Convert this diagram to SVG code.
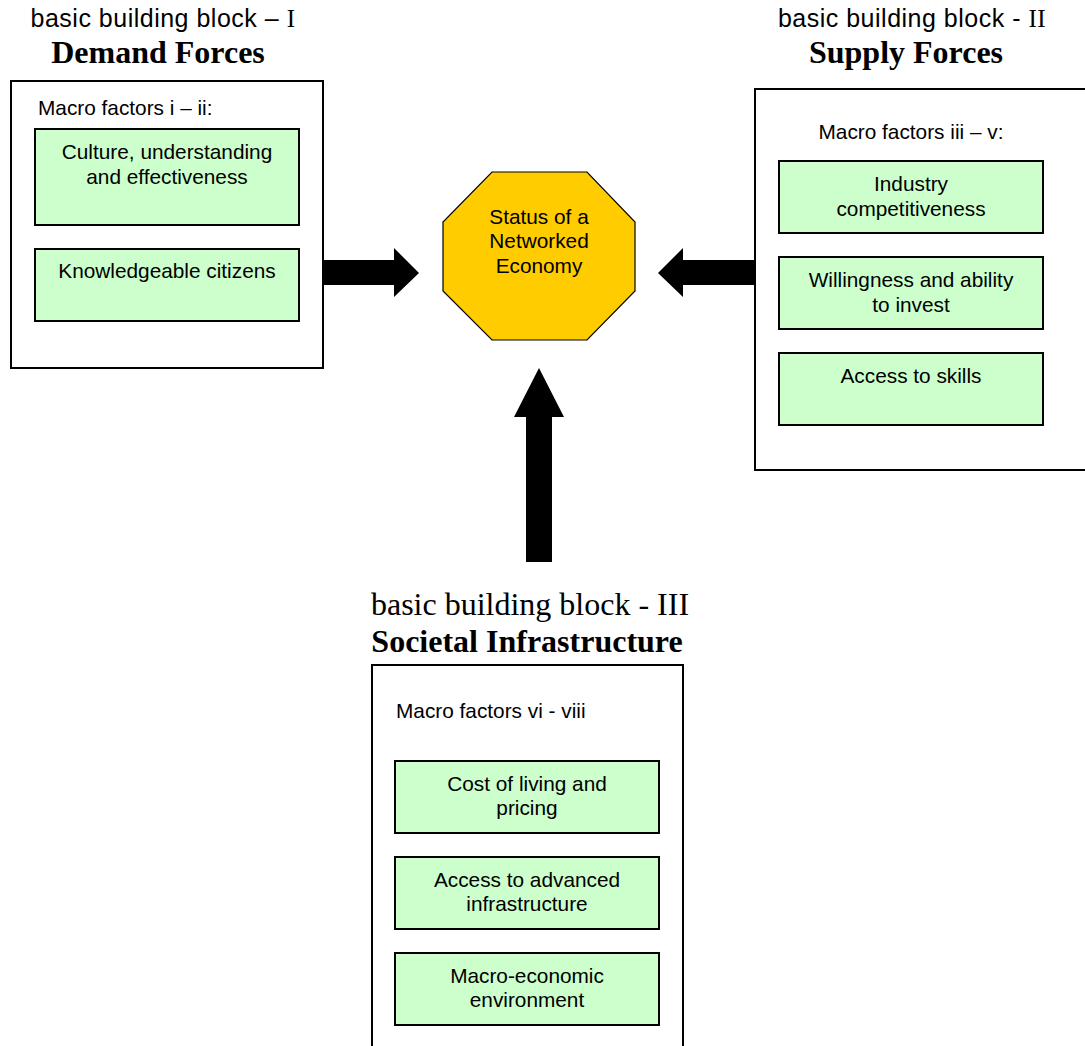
<svg xmlns="http://www.w3.org/2000/svg" width="1085" height="1046" viewBox="0 0 1085 1046">
<style>
  .frame { fill: #ffffff; stroke: #000000; stroke-width: 2; }
  .factor { fill: #ccffcc; stroke: #000000; stroke-width: 2; }
  .hub { fill: #ffcc00; stroke: #000000; stroke-width: 1.2; }
  .arrow { fill: #000000; stroke: none; }
  .body { font-family: "Liberation Sans", Arial, sans-serif; font-size: 20.8px; fill: #000000; }
  .mid { text-anchor: middle; }
  .sub { font-family: "Liberation Sans", Arial, sans-serif; font-size: 25px; letter-spacing: 0.5px; fill: #000000; }
  .roman { font-family: "Liberation Serif", "Times New Roman", serif; }
  .head { font-family: "Liberation Serif", "Times New Roman", serif; font-size: 32px; font-weight: bold; fill: #000000; text-anchor: middle; }
  .sub3 { font-family: "Liberation Serif", "Times New Roman", serif; font-size: 32px; fill: #000000; text-anchor: middle; }
</style>
<rect x="0" y="0" width="1085" height="1046" fill="#ffffff"/>

<g id="demand-forces">
  <text class="sub mid" x="163" y="27">basic building block – <tspan class="roman">I</tspan></text>
  <text class="head" x="158" y="63">Demand Forces</text>
  <rect class="frame" x="11" y="81" width="312" height="287"/>
  <text class="body" x="38" y="115">Macro factors i – ii:</text>
  <g id="culture">
    <rect class="factor" x="35" y="129" width="264" height="96"/>
    <text class="body mid" x="167" y="159">Culture, understanding</text>
    <text class="body mid" x="167" y="184">and effectiveness</text>
  </g>
  <g id="citizens">
    <rect class="factor" x="35" y="249" width="264" height="72"/>
    <text class="body mid" x="167" y="278">Knowledgeable citizens</text>
  </g>
</g>

<g id="supply-forces">
  <text class="sub mid" x="912" y="27">basic building block - <tspan class="roman">II</tspan></text>
  <text class="head" x="906" y="63">Supply Forces</text>
  <rect class="frame" x="755" y="89" width="345" height="381"/>
  <text class="body mid" x="911" y="139">Macro factors iii – v:</text>
  <g id="industry">
    <rect class="factor" x="779" y="161" width="264" height="72"/>
    <text class="body mid" x="911" y="191">Industry</text>
    <text class="body mid" x="911" y="216">competitiveness</text>
  </g>
  <g id="invest">
    <rect class="factor" x="779" y="257" width="264" height="72"/>
    <text class="body mid" x="911" y="287">Willingness and ability</text>
    <text class="body mid" x="911" y="312">to invest</text>
  </g>
  <g id="skills">
    <rect class="factor" x="779" y="353" width="264" height="72"/>
    <text class="body mid" x="911" y="383">Access to skills</text>
  </g>
</g>

<g id="networked-economy">
  <polygon class="hub" points="492,172 587,172 635,222 635,291 587,340 492,340 443,291 443,222"/>
  <text class="body mid" x="539" y="224">Status of a</text>
  <text class="body mid" x="539" y="248">Networked</text>
  <text class="body mid" x="539" y="273">Economy</text>
</g>

<g id="societal-infrastructure">
  <text class="sub3" x="530" y="615">basic building block - III</text>
  <text class="head" x="527" y="652">Societal Infrastructure</text>
  <rect class="frame" x="372" y="665" width="311" height="420"/>
  <text class="body" x="396" y="718">Macro factors vi - viii</text>
  <g id="cost">
    <rect class="factor" x="395" y="761" width="264" height="72"/>
    <text class="body mid" x="527" y="791">Cost of living and</text>
    <text class="body mid" x="527" y="815">pricing</text>
  </g>
  <g id="infrastructure">
    <rect class="factor" x="395" y="857" width="264" height="72"/>
    <text class="body mid" x="527" y="887">Access to advanced</text>
    <text class="body mid" x="527" y="911">infrastructure</text>
  </g>
  <g id="macro-economic">
    <rect class="factor" x="395" y="953" width="264" height="72"/>
    <text class="body mid" x="527" y="983">Macro-economic</text>
    <text class="body mid" x="527" y="1007">environment</text>
  </g>
</g>

<g id="connectors">
  <polygon class="arrow" points="324,260 394,260 394,248 419,273 394,297 394,285 324,285"/>
  <polygon class="arrow" points="754,260 683,260 683,248 658,273 683,297 683,285 754,285"/>
  <polygon class="arrow" points="526,562 526,417 514,417 539,368 564,417 552,417 552,562"/>
</g>
</svg>
